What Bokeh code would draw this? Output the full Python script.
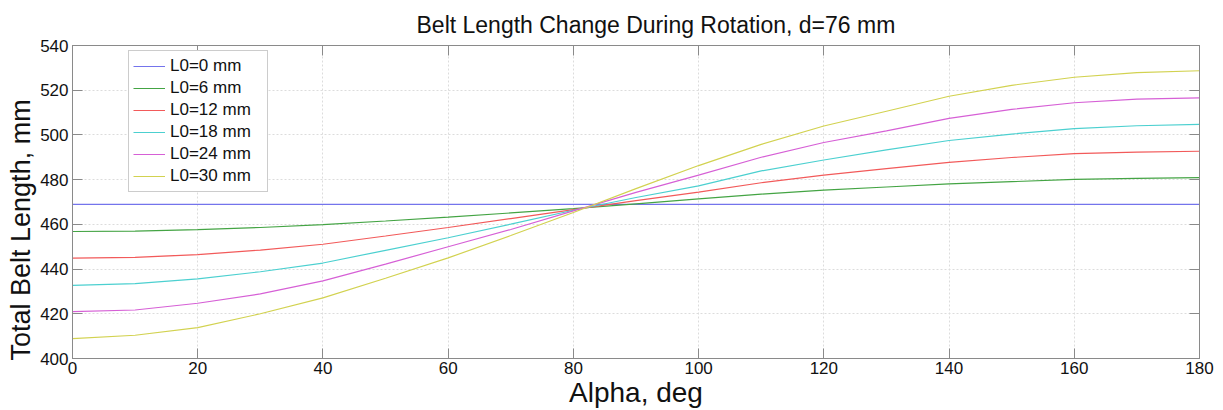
from bokeh.plotting import figure
from bokeh.models import (Range1d, FixedTicker, LinearAxis, Legend, LegendItem, Title,
                          CustomJSTickFormatter)
from bokeh.embed import file_html
from bokeh.resources import INLINE

alpha = [0, 10, 20, 30, 40, 50, 60, 70, 80, 90, 100, 110, 120, 130, 140, 150, 160, 170, 180]

L0_0 = [468.9] * 19
L0_6 = [456.8, 457.0, 457.6, 458.6, 459.9, 461.5, 463.2, 465.1, 467.0, 469.2, 471.4, 473.5, 475.3, 476.7, 478.1, 479.1, 480.1, 480.6, 480.9]
L0_12 = [444.9, 445.2, 446.5, 448.5, 451.1, 454.8, 458.6, 462.6, 466.6, 470.6, 474.4, 478.6, 482.0, 484.9, 487.7, 489.9, 491.6, 492.3, 492.7]
L0_18 = [432.7, 433.5, 435.6, 438.8, 442.7, 448.4, 454.0, 460.1, 466.3, 472.0, 477.2, 483.9, 488.8, 493.3, 497.5, 500.4, 502.8, 504.1, 504.7]
L0_24 = [421.0, 421.7, 424.7, 428.9, 434.7, 442.2, 450.0, 457.7, 466.0, 474.3, 482.0, 490.0, 496.6, 501.8, 507.4, 511.4, 514.4, 516.0, 516.6]
L0_30 = [408.9, 410.4, 413.8, 420.0, 427.1, 435.9, 445.0, 455.0, 465.3, 476.0, 486.3, 495.8, 504.0, 510.6, 517.3, 522.2, 525.8, 527.9, 528.7]

labels = ["L0=0 mm", "L0=6 mm", "L0=12 mm", "L0=18 mm", "L0=24 mm", "L0=30 mm"]
series = [L0_0, L0_6, L0_12, L0_18, L0_24, L0_30]
colors = ["#7474ec", "#44a444", "#f25a5a", "#4cd0d0", "#d660d6", "#d2d250"]

x_ticks = [0, 20, 40, 60, 80, 100, 120, 140, 160, 180]
y_ticks = [400, 420, 440, 460, 480, 500, 520, 540]

FONT = "Liberation Sans"
GRAY = "#8a8a8a"
TXT = "#111111"

p = figure(width=1223, height=410, output_backend="svg", toolbar_location=None,
           x_range=Range1d(0, 180), y_range=Range1d(400, 540),
           min_border_left=72, min_border_right=24, min_border_top=45, min_border_bottom=50)

p.title = Title(text="Belt Length Change During Rotation, d=76 mm", align="left",
                text_font=FONT, text_font_size="23px", text_font_style="normal",
                text_color=TXT, offset=344, standoff=15)

renderers = []
for ys, c in zip(series, colors):
    r = p.line(alpha, ys, line_color=c, line_width=1.2)
    renderers.append(r)

for ax in [p.xaxis[0], p.yaxis[0]]:
    ax.major_tick_in = 10
    ax.major_tick_out = 0
    ax.minor_tick_line_color = None
    ax.axis_line_color = GRAY
    ax.major_tick_line_color = GRAY
    ax.major_label_text_font = FONT
    ax.major_label_text_font_size = "17px"
    ax.major_label_text_color = TXT
    ax.axis_label_text_font = FONT
    ax.axis_label_text_font_size = "28px"
    ax.axis_label_text_font_style = "normal"
    ax.axis_label_text_color = TXT

p.xaxis[0].ticker = FixedTicker(ticks=x_ticks)
p.yaxis[0].ticker = FixedTicker(ticks=y_ticks)
p.xaxis[0].axis_label = "Alpha, deg"
p.xaxis[0].major_label_standoff = 3
p.xaxis[0].axis_label_standoff = 0
p.yaxis[0].major_label_standoff = 4

p.add_layout(Title(text="Total Belt Length, mm", align="left", offset=-2,
                   text_font=FONT, text_font_size="27px", text_font_style="normal",
                   text_color=TXT, standoff=4), "left")

blank = CustomJSTickFormatter(code="return ''")
top = LinearAxis(ticker=FixedTicker(ticks=x_ticks), formatter=blank,
                 major_tick_in=10, major_tick_out=0, minor_tick_line_color=None,
                 axis_line_color=GRAY, major_tick_line_color=GRAY, major_label_standoff=0)
right = LinearAxis(ticker=FixedTicker(ticks=y_ticks), formatter=blank,
                   major_tick_in=10, major_tick_out=0, minor_tick_line_color=None,
                   axis_line_color=GRAY, major_tick_line_color=GRAY, major_label_standoff=0)
p.add_layout(top, "above")
p.add_layout(right, "right")

p.xgrid.ticker = FixedTicker(ticks=x_ticks)
p.ygrid.ticker = FixedTicker(ticks=y_ticks)
p.grid.grid_line_color = "#dcdcdc"
p.grid.grid_line_dash = "2 2"
p.grid.grid_line_width = 1
p.outline_line_color = GRAY

legend = Legend(items=[LegendItem(label=l, renderers=[r]) for l, r in zip(labels, renderers)],
                location=(56, 166), label_text_font=FONT, label_text_font_size="17px",
                label_text_color=TXT, glyph_width=32, glyph_height=22, label_height=22,
                label_width=93, spacing=0, padding=4, margin=0, label_standoff=5,
                border_line_color="#999999", border_line_width=1,
                background_fill_color="white", background_fill_alpha=1.0)
p.add_layout(legend, "center")

open("out.html", "w").write(file_html(p, INLINE))
